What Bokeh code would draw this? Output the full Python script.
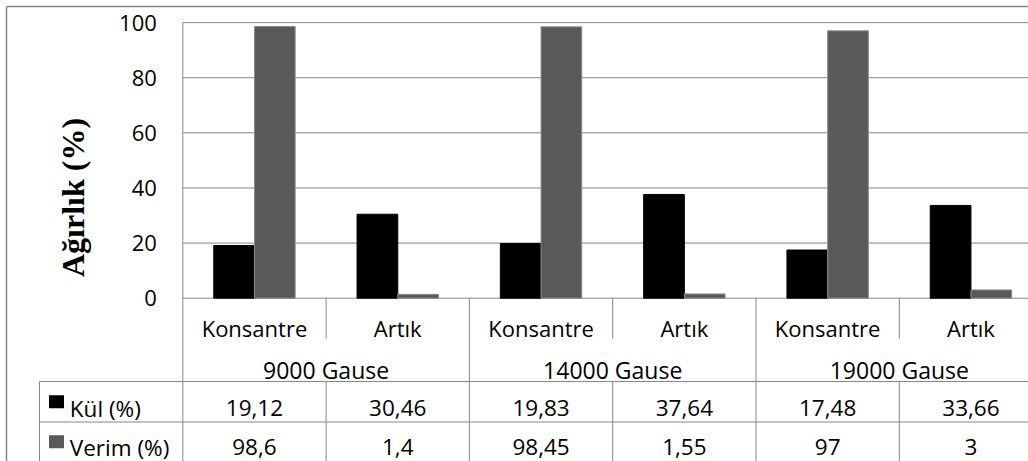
from math import pi
import numpy as np
from bokeh.plotting import figure
from bokeh.models import ColumnDataSource, Range1d, FixedTicker
from bokeh.transform import dodge
from bokeh.core.properties import value
from bokeh.embed import file_html
from bokeh.resources import INLINE

# ---------------- data ----------------
groups = ["9000 Gause", "14000 Gause", "19000 Gause"]
products = ["Konsantre", "Artık"]
kul = [19.12, 30.46, 19.83, 37.64, 17.48, 33.66]
verim = [98.6, 1.4, 98.45, 1.55, 97, 3]
series_names = ["Kül (%)", "Verim (%)"]
y_ticks = [0, 20, 40, 60, 80, 100]
y_title = "Ağırlık (%)"

# ---------------- style / layout ----------------
KUL_COLOR = "#000000"
VERIM_COLOR = "#595959"
LINE = "#878787"
FONT = "Open Sans"
FS = "22px"
FS2 = "23px"
FS3 = "22.5px"

W, H = 1028, 461
PAGE = 0
X0, XS = 182.3, 143.3      # page px of x=0, px per category
Y0, YS = 297.7, 2.756      # page px of y=0, px per unit


def xd(px):
    return (px - X0) / XS


def yd(px):
    return (Y0 - px) / YS


def fmt(v):
    return ("%g" % v).replace(".", ",")


n = len(kul)
xc = np.arange(n) + 0.5
cat_labels = [products[i % len(products)] for i in range(n)]
src = ColumnDataSource(dict(x=xc, kul=kul, verim=verim, cat=cat_labels,
                            kul_lbl=[fmt(v) for v in kul],
                            verim_lbl=[fmt(v) for v in verim]))

p = figure(width=W, height=H,
           x_range=Range1d(xd(PAGE), xd(PAGE + W)),
           y_range=Range1d(yd(PAGE + H), yd(PAGE)),
           output_backend="svg", toolbar_location=None,
           min_border=0, outline_line_color=None)
p.background_fill_color = "white"
p.border_fill_color = "white"
p.xaxis.visible = False
p.grid.visible = False

ax = p.yaxis[0]
ax.fixed_location = 0
ax.ticker = FixedTicker(ticks=y_ticks)
ax.axis_line_color = None
ax.major_tick_line_color = None
ax.minor_tick_line_color = None
ax.major_tick_out = 0
ax.major_tick_in = 0
ax.major_label_standoff = 26
ax.major_label_text_font = FONT
ax.major_label_text_font_size = FS
ax.major_label_text_color = "#000000"

y_bot = yd(PAGE + H) - 2
row_split = yd(381)
data_split = yd(421.5)
cat_sep_end = yd(338.3)

# gridlines (0..100)
p.segment(x0=0, x1=n, y0=y_ticks, y1=y_ticks, line_color=LINE, line_width=1)

# bars
BW = 0.284
p.vbar(x=dodge("x", -BW / 2), top="kul", bottom=0, width=BW, source=src,
       fill_color=KUL_COLOR, line_color=KUL_COLOR, line_width=1)
p.vbar(x=dodge("x", BW / 2), top="verim", bottom=0, width=BW, source=src,
       fill_color=VERIM_COLOR, line_color="#8c8c8c", line_width=1)

# plot area left border + group separators
gsep = [0] + [2 * (g + 1) for g in range(len(groups))]
p.segment(x0=gsep, x1=gsep, y0=[y_ticks[-1]] + [0] * len(groups),
          y1=[y_bot] * len(gsep), line_color=LINE, line_width=1)
# category separators inside groups
csep = [2 * g + 1 for g in range(len(groups))]
p.segment(x0=csep, x1=csep, y0=[0] * len(csep), y1=[cat_sep_end] * len(csep),
          line_color=LINE, line_width=1)
p.segment(x0=csep, x1=csep, y0=[row_split] * len(csep), y1=[y_bot] * len(csep),
          line_color=LINE, line_width=1)
# table horizontal lines + legend column edge
p.segment(x0=[-1, -1], x1=[n, n], y0=[row_split, data_split],
          y1=[row_split, data_split], line_color=LINE, line_width=1)
p.segment(x0=[-1], x1=[-1], y0=[row_split], y1=[y_bot], line_color=LINE, line_width=1)

# outer chart border (left / top)
p.segment(x0=[xd(6), xd(6)], x1=[xd(6), xd(PAGE + W)],
          y0=[y_bot, yd(6)], y1=[yd(6), yd(6)],
          line_color=LINE, line_width=1.5)

txt = dict(text_font=value(FONT), text_color="#000000",
           text_align="center", text_baseline="alphabetic")
# category row
p.text(x="x", y=yd(327.3), text="cat", source=src, text_font_size=FS, **txt)
# group row
p.text(x=[2 * g + 1 for g in range(len(groups))], y=[yd(369.3)] * len(groups),
       text=groups, text_font_size=FS2, **txt)
# data rows
p.text(x="x", y=yd(407.5), text="kul_lbl", source=src, text_font_size=FS3, **txt)
p.text(x="x", y=yd(446.5), text="verim_lbl", source=src, text_font_size=FS3, **txt)

# legend keys in table
row_centers = [(row_split + data_split) / 2, (data_split + yd(461)) / 2]
p.rect(x=[xd(56)] * 2, y=row_centers, width=15, height=13,
       width_units="screen", height_units="screen",
       fill_color=[KUL_COLOR, VERIM_COLOR], line_color=None)
p.text(x=[xd(69.3)] * 2, y=[yd(407.5), yd(446.5)], text=series_names,
       text_font=value(FONT), text_font_size=FS3, text_color="#000000",
       text_align="left", text_baseline="alphabetic")

# y axis title
p.text(x=[xd(72)], y=[yd(197)], text=[y_title], angle=pi / 2,
       text_font=value("Liberation Serif"), text_font_style="bold",
       text_font_size="32px", text_color="#000000",
       text_align="center", text_baseline="alphabetic")

open("out.html", "w").write(file_html(p, INLINE))
